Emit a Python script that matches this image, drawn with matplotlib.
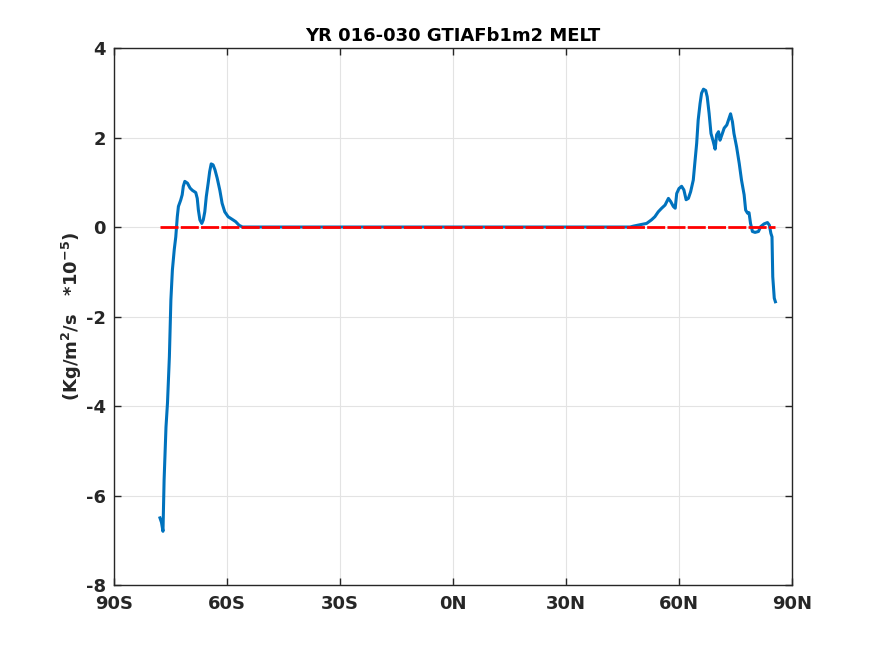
import matplotlib
matplotlib.use("Agg")
import matplotlib.pyplot as plt

plt.rcParams["axes.unicode_minus"] = False

# Blue curve: latitude (deg, negative = S) and melt value (*1e-5)
lat = [-77.8, -77.4, -77.0, -76.7, -76.2, -75.8, -75.3, -74.9, -74.5, -74.0,
       -73.6, -73.2, -72.9, -72.3, -71.9, -71.6, -71.2, -70.5, -69.8, -69.2,
       -68.3, -67.9, -67.6, -67.2, -66.7, -66.3, -65.9, -65.5, -65.0, -64.6,
       -64.2, -63.7, -63.2, -62.6, -61.9, -61.3, -60.6, -59.7, -58.6, -57.7,
       -56.8, -55.9, -30.0, 0.0, 30.0, 47.0,
       47.9, 49.6, 51.4, 52.7, 53.6, 54.5, 55.4, 56.3, 57.2, 57.8,
       58.5, 59.0, 59.4, 60.0, 60.7, 61.3, 61.9, 62.5, 63.1, 63.8,
       64.2, 64.7, 65.1, 65.6, 66.0, 66.5, 67.1, 67.5, 68.0, 68.5,
       69.1, 69.6, 70.0, 70.5, 70.9, 71.4, 72.0, 72.7, 73.3, 73.7,
       74.2, 74.6, 75.3, 76.0, 76.6, 77.3, 77.7, 78.2, 78.6, 79.0,
       79.5, 80.2, 81.1, 81.7, 82.6, 83.5, 84.0, 84.4, 84.7, 84.9,
       85.3, 85.6]
melt = [-6.5, -6.6, -6.8, -5.65, -4.47, -3.93, -2.9, -1.63, -0.96, -0.5,
        -0.22, 0.23, 0.46, 0.6, 0.72, 0.91, 1.02, 0.98, 0.87, 0.82,
        0.77, 0.64, 0.38, 0.16, 0.08, 0.16, 0.34, 0.68, 0.98, 1.24,
        1.41, 1.39, 1.28, 1.09, 0.82, 0.53, 0.34, 0.23, 0.17, 0.12,
        0.04, 0.0, 0.0, 0.0, 0.0, 0.0,
        0.02, 0.05, 0.08, 0.16, 0.23, 0.34, 0.42, 0.49, 0.64, 0.57,
        0.46, 0.42, 0.75, 0.86, 0.91, 0.83, 0.61, 0.64, 0.79, 1.05,
        1.42, 1.87, 2.39, 2.76, 2.99, 3.08, 3.05, 2.91, 2.54, 2.09,
        1.91, 1.74, 2.06, 2.13, 1.94, 2.06, 2.21, 2.28, 2.43, 2.53,
        2.35, 2.09, 1.79, 1.42, 1.05, 0.72, 0.38, 0.31, 0.32, 0.08,
        -0.10, -0.12, -0.10, 0.01, 0.07, 0.10, 0.04, -0.14, -0.22, -1.11,
        -1.59, -1.67]

# Red reference line (zero)
ref_lat = [-77.8, 85.5]
ref_val = [0.0, 0.0]

xticks = [-90, -60, -30, 0, 30, 60, 90]
xticklabels = ["90S", "60S", "30S", "0N", "30N", "60N", "90N"]
yticks = [-8, -6, -4, -2, 0, 2, 4]

fig = plt.figure(figsize=(8.75, 6.56), dpi=100)
ax = fig.add_axes([0.1303, 0.1082, 0.7748, 0.8186])

ax.plot(ref_lat, ref_val, color="red", linestyle=(0, (6.5, 0.8)), linewidth=2.0, zorder=3)
ax.plot(lat, melt, color="#0072BD", linewidth=2.2, zorder=2)

ax.set_xlim(-90, 90)
ax.set_ylim(-8, 4)
ax.set_xticks(xticks)
ax.set_xticklabels(xticklabels)
ax.set_yticks(yticks)
ax.grid(True, color="#e3e3e3", linewidth=0.8)
ax.set_axisbelow(True)
ax.tick_params(direction="in", top=True, right=True, length=5, width=1,
               labelsize=13, colors="#262626")
ax.tick_params(axis="x", pad=7)
ax.tick_params(axis="y", pad=6)
for lbl in ax.get_xticklabels() + ax.get_yticklabels():
    lbl.set_fontweight("bold")
for sp in ax.spines.values():
    sp.set_color("#262626")
    sp.set_linewidth(1)

ax.set_title("YR 016-030 GTIAFb1m2 MELT", fontsize=13, fontweight="bold", color="black", pad=5)
ax.set_ylabel(r"(Kg/m$^\mathbf{2}$/s   *10$^\mathbf{-5}$)", fontsize=13, fontweight="bold",
              color="#262626", labelpad=1)

fig.savefig("out.png", dpi=100)
